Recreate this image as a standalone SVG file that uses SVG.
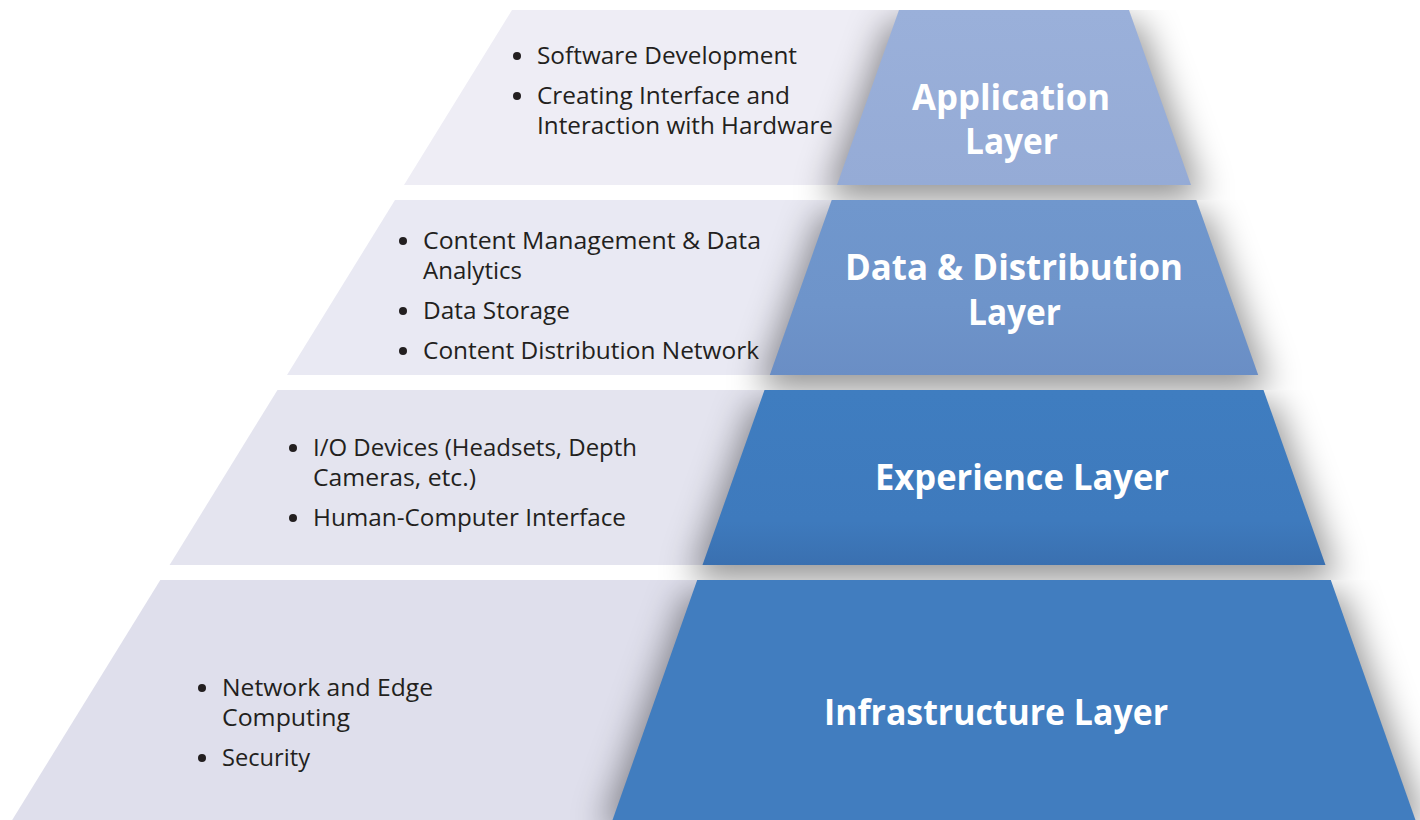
<svg xmlns="http://www.w3.org/2000/svg" width="1420" height="820" viewBox="0 0 1420 820">
  <defs>
    <style>
      .item { font-family: "Open Sans", "Noto Sans", sans-serif; font-size: 24px; fill: #231f20; }
      .title { font-family: "Open Sans", "Noto Sans", sans-serif; font-weight: 700; font-size: 35px; fill: #ffffff; text-anchor: middle; }
      .dot { fill: #231f20; }
      .shadow { fill: #000000; fill-opacity: 0.42; filter: url(#soft); }
    </style>
    <filter id="soft" filterUnits="userSpaceOnUse" x="0" y="0" width="1420" height="900">
      <feGaussianBlur stdDeviation="17"/>
    </filter>
    <linearGradient id="g1" x1="0" y1="0" x2="0" y2="1">
      <stop offset="0" stop-color="#9ab0da"/>
      <stop offset="1" stop-color="#95abd6"/>
    </linearGradient>
    <linearGradient id="g2" x1="0" y1="0" x2="0" y2="1">
      <stop offset="0" stop-color="#7097cd"/>
      <stop offset="0.6" stop-color="#6e94ca"/>
      <stop offset="1" stop-color="#6a8ec5"/>
    </linearGradient>
    <linearGradient id="g3" x1="0" y1="0" x2="0" y2="1">
      <stop offset="0" stop-color="#3f7dc0"/>
      <stop offset="0.75" stop-color="#3e7abd"/>
      <stop offset="1" stop-color="#3a70b0"/>
    </linearGradient>
    <!-- each shadow stays inside its own layer band and the gap under it -->
    <clipPath id="c1"><rect x="0" y="10" width="1420" height="190"/></clipPath>
    <clipPath id="c2"><rect x="0" y="200" width="1420" height="190"/></clipPath>
    <clipPath id="c3"><rect x="0" y="390" width="1420" height="190"/></clipPath>
    <clipPath id="c4"><rect x="0" y="580" width="1420" height="240"/></clipPath>
  </defs>

  <rect width="1420" height="820" fill="#ffffff"/>

  <!-- Application layer -->
  <g id="application-layer">
    <polygon points="512,10 1014,10 1014,185 404,185" fill="#eeedf5"/>
    <g clip-path="url(#c1)">
      <polygon class="shadow" points="889,22 1139,22 1203,200 825,200"/>
    </g>
    <polygon points="899,10 1129,10 1191,185 837,185" fill="url(#g1)"/>
    <circle class="dot" cx="517" cy="56" r="4"/>
    <text class="item" x="537" y="64" textLength="260" lengthAdjust="spacingAndGlyphs">Software Development</text>
    <circle class="dot" cx="517" cy="96" r="4"/>
    <text class="item" x="537" y="104" textLength="253" lengthAdjust="spacingAndGlyphs">Creating Interface and</text>
    <text class="item" x="537" y="134" textLength="296" lengthAdjust="spacingAndGlyphs">Interaction with Hardware</text>
    <text class="title" x="1011" y="110" textLength="198" lengthAdjust="spacingAndGlyphs">Application</text>
    <text class="title" x="1011.5" y="154" textLength="93" lengthAdjust="spacingAndGlyphs">Layer</text>
  </g>

  <!-- Data & Distribution layer -->
  <g id="data-distribution-layer">
    <polygon points="395,200 1014,200 1014,375 287,375" fill="#e9e9f3"/>
    <g clip-path="url(#c2)">
      <polygon class="shadow" points="822,212 1206,212 1270,390 758,390"/>
    </g>
    <polygon points="831.7,200 1196.3,200 1258.2,375 769.8,375" fill="url(#g2)"/>
    <circle class="dot" cx="403" cy="241" r="4"/>
    <text class="item" x="423" y="249" textLength="338" lengthAdjust="spacingAndGlyphs">Content Management &amp; Data</text>
    <text class="item" x="423" y="279" textLength="99" lengthAdjust="spacingAndGlyphs">Analytics</text>
    <circle class="dot" cx="403" cy="311" r="4"/>
    <text class="item" x="423" y="319" textLength="147" lengthAdjust="spacingAndGlyphs">Data Storage</text>
    <circle class="dot" cx="403" cy="351" r="4"/>
    <text class="item" x="423" y="359" textLength="336" lengthAdjust="spacingAndGlyphs">Content Distribution Network</text>
    <text class="title" x="1014" y="280" textLength="338" lengthAdjust="spacingAndGlyphs">Data &amp; Distribution</text>
    <text class="title" x="1014.5" y="325" textLength="93" lengthAdjust="spacingAndGlyphs">Layer</text>
  </g>

  <!-- Experience layer -->
  <g id="experience-layer">
    <polygon points="277.5,390 1014,390 1014,565 169.6,565" fill="#e4e4ef"/>
    <g clip-path="url(#c3)">
      <polygon class="shadow" points="754.5,402 1273.5,402 1337.5,580 690.5,580"/>
    </g>
    <polygon points="764.5,390 1263.5,390 1325.5,565 702.5,565" fill="url(#g3)"/>
    <circle class="dot" cx="293" cy="448" r="4"/>
    <text class="item" x="313" y="456" textLength="324" lengthAdjust="spacingAndGlyphs">I/O Devices (Headsets, Depth</text>
    <text class="item" x="313" y="486" textLength="163" lengthAdjust="spacingAndGlyphs">Cameras, etc.)</text>
    <circle class="dot" cx="293" cy="518" r="4"/>
    <text class="item" x="313" y="526" textLength="313" lengthAdjust="spacingAndGlyphs">Human-Computer Interface</text>
    <text class="title" x="1022" y="490" textLength="294" lengthAdjust="spacingAndGlyphs">Experience Layer</text>
  </g>

  <!-- Infrastructure layer -->
  <g id="infrastructure-layer">
    <polygon points="160.3,580 1014,580 1014,830 6,830" fill="#dfdfec"/>
    <g clip-path="url(#c4)">
      <polygon class="shadow" points="687,592 1341,592 1426,830 602,830"/>
    </g>
    <polygon points="697.2,580 1330.8,580 1419,830 609,830" fill="#417dbf"/>
    <circle class="dot" cx="202" cy="688" r="4"/>
    <text class="item" x="222" y="696" textLength="211" lengthAdjust="spacingAndGlyphs">Network and Edge</text>
    <text class="item" x="222" y="726" textLength="128" lengthAdjust="spacingAndGlyphs">Computing</text>
    <circle class="dot" cx="202" cy="758" r="4"/>
    <text class="item" x="222" y="766" textLength="88" lengthAdjust="spacingAndGlyphs">Security</text>
    <text class="title" x="996" y="725" textLength="344" lengthAdjust="spacingAndGlyphs">Infrastructure Layer</text>
  </g>
</svg>
